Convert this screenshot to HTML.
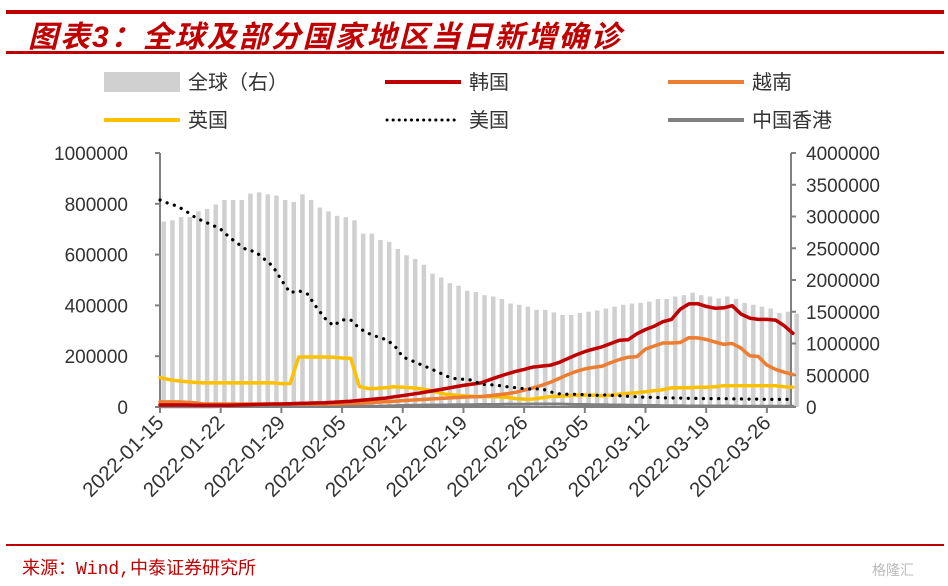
<!DOCTYPE html>
<html><head><meta charset="utf-8">
<style>
body{margin:0;background:#fff;}
#wrap{position:relative;width:948px;height:586px;overflow:hidden;font-family:"Liberation Sans","Noto Sans CJK SC",sans-serif;}
.hr{position:absolute;left:6px;width:938px;background:#c00000;}
#title{position:absolute;left:28px;top:12px;font-size:30px;font-weight:bold;font-style:italic;color:#c00000;font-family:"Liberation Sans","Noto Sans CJK SC",sans-serif;letter-spacing:2px;}
#src{position:absolute;left:22px;top:554px;font-size:18px;color:#c00000;font-family:"Liberation Mono","Noto Sans CJK SC",monospace;}
#wm{position:absolute;left:872px;top:560px;font-size:14px;color:#bbb;}
</style></head><body>
<div id="wrap">
<div class="hr" style="top:10px;height:4px"></div>
<div id="title">图表3：全球及部分国家地区当日新增确诊</div>
<div class="hr" style="top:51px;height:3px"></div>
<svg id="chart" width="948" height="586" style="position:absolute;left:0;top:0"></svg>
<div class="hr" style="top:544px;height:2px"></div>
<div id="src">来源：Wind,中泰证券研究所</div>
<div id="wm">格隆汇</div>
</div>
<script>
const xTickLabels=["2022-01-15","2022-01-22","2022-01-29","2022-02-05","2022-02-12","2022-02-19","2022-02-26","2022-03-05","2022-03-12","2022-03-19","2022-03-26"];
const leftTicks=[0,200000,400000,600000,800000,1000000];
const rightTicks=[0,500000,1000000,1500000,2000000,2500000,3000000,3500000,4000000];
// values in thousands (left axis) / millions (global, right axis)
const globalM=[2.92,2.94,2.99,2.99,3.08,3.12,3.19,3.26,3.26,3.26,3.36,3.38,3.35,3.33,3.26,3.23,3.35,3.26,3.14,3.08,3.01,2.99,2.94,2.73,2.73,2.63,2.60,2.49,2.39,2.33,2.24,2.10,2.04,1.95,1.91,1.83,1.81,1.76,
1.74,1.70,1.63,1.61,1.58,1.53,1.53,1.49,1.45,1.45,1.48,1.50,1.52,1.55,1.58,1.61,1.63,1.64,1.66,1.70,1.70,1.74,1.76,1.80,1.76,1.74,1.71,1.74,1.70,1.64,1.61,1.58,1.55,1.48,1.50,1.47];
const koreaK=[8,8,8,8,7,7,7,7,7,8,9,10,11,12,12,13,14,15,16,17,19,21,23,26,29,32,35,40,45,50,55,61,67,73,79,85,90,95,107,119,130,140,148,157,161,164,175,190,205,218,228,237,250,263,265,288,305,318,336,345,385,406,407,396,389,390,399,366,350,345,345,342,320,290];
const vietnamK=[20,20,20,19,17,12,12,12,12,12,12,12,12,12,12,12,12,12,12,12,12,13,14,15,17,19,21,23,25,27,29,31,33,35,37,39,40,41,44,48,52,58,66,75,85,97,112,127,140,150,156,161,175,187,196,198,228,240,252,252,254,273,272,266,256,247,250,232,202,199,165,148,137,128];
const ukK=[116,108,103,100,97,95,95,95,95,95,95,95,95,95,92,92,197,197,197,197,196,193,192,80,73,73,76,80,78,76,72,66,58,50,47,44,42,41,41,40,38,33,31,31,36,41,42,44,47,47,46,44,46,50,54,56,60,64,68,75,76,76,78,78,80,84,84,84,84,84,84,84,80,78];
const usK=[815,801,791,771,748,731,717,700,668,643,618,612,583,555,500,450,458,445,395,350,320,343,343,310,290,277,266,244,197,183,168,154,139,122,112,109,106,89,88,85,80,76,72,70,72,60,52,50,50,48,45,48,46,44,42,40,38,38,36,36,35,34,34,33,33,33,32,32,31,31,30,30,30,30];
const hkK=[1,1,1,1,1,1,1,2,2,2,2,2,2,2,2,2,2,2,2,2,2,3,3,3,3,3,4,5,6,7,7,8,8,8,9,9,9,10,10,10,11,11,11,12,12,12,12,11,10,10,9,9,8,8,7,7,6,6,5,5,5,4,4,4,4,4,4,3,3,3,3,3,3,3];

const svg=document.getElementById('chart');
const NS='http://www.w3.org/2000/svg';
const X0=160,DX=8.67,Y0=407,H=254;
const x=i=>X0+i*DX;
const yL=v=>Y0-v/1000000*H;
const yR=v=>Y0-v/4000000*H;
function mk(t,a,p){const e=document.createElementNS(NS,t);for(const k in a)e.setAttribute(k,a[k]);(p||svg).appendChild(e);return e;}
const FONT='"Liberation Sans","Noto Sans CJK SC",sans-serif';

const gb=mk('g',{});


globalM.forEach((v,i)=>{const yy=yR(v*1e6);const r=mk('rect',{x:x(i)+1.5,y:yy,width:4.5,height:Y0-yy,fill:'#d0d0d0'},gb);

});

const ax=mk('g',{stroke:'#808080','stroke-width':2,fill:'none'});


mk('line',{x1:X0,y1:153,x2:X0,y2:Y0},ax);
mk('line',{x1:791,y1:153,x2:791,y2:Y0},ax);
mk('line',{x1:X0,y1:Y0,x2:791,y2:Y0},ax);
leftTicks.forEach(v=>{mk('line',{x1:X0-5,y1:yL(v),x2:X0,y2:yL(v)},ax);
const t=mk('text',{x:128,y:yL(v)+7,'text-anchor':'end','font-size':19,fill:'#333','font-family':FONT});t.textContent=v;

});
rightTicks.forEach(v=>{mk('line',{x1:791,y1:yR(v),x2:796,y2:yR(v)},ax);
const t=mk('text',{x:806,y:yR(v)+7,'font-size':19,fill:'#333','font-family':FONT});t.textContent=v;

});
xTickLabels.forEach((s,k)=>{const xx=x(k*7);mk('line',{x1:xx,y1:Y0,x2:xx,y2:Y0+6},ax);
const t=mk('text',{x:xx+5,y:Y0+17,'text-anchor':'end','font-size':20.5,fill:'#333','font-family':FONT,transform:`rotate(-45 ${xx+5} ${Y0+17})`});t.textContent=s;

});

function line(arr,color,w,name,dash){const d=arr.map((v,i)=>(i?'L':'M')+x(i).toFixed(1)+' '+yL(v*1000).toFixed(1)).join(' ');
const a={d:d,fill:'none',stroke:color,'stroke-width':w,'stroke-linejoin':'round','stroke-linecap':'round'};if(dash)a['stroke-dasharray']=dash;
const p=mk('path',a);

}
line(hkK,'#808080',3,'hongkong-line');
line(ukK,'#ffc000',3.5,'uk-line');
line(vietnamK,'#ed7d31',3.5,'vietnam-line');
line(koreaK,'#c00000',3.5,'korea-line');
line(usK,'#000000',3.2,'us-line','0.1 7.5');

const items=[["全球（右）",104,82,'bar'],["韩国",385,82,'#c00000'],["越南",668,82,'#ed7d31'],["英国",104,120,'#ffc000'],["美国",385,120,'dot'],["中国香港",668,120,'#808080']];
items.forEach(it=>{const g=mk('g',{});


if(it[3]==='bar')mk('rect',{x:it[1],y:it[2]-10,width:76,height:20,fill:'#d0d0d0'},g);
else if(it[3]==='dot')mk('line',{x1:it[1]+2,y1:it[2],x2:it[1]+74,y2:it[2],stroke:'#000','stroke-width':3,'stroke-dasharray':'0.1 6','stroke-linecap':'round'},g);
else mk('line',{x1:it[1],y1:it[2],x2:it[1]+76,y2:it[2],stroke:it[3],'stroke-width':4},g);
const t=mk('text',{x:it[1]+84,y:it[2]+7,'font-size':20,fill:'#333','font-family':FONT},g);t.textContent=it[0];});
</script>
</body></html>
